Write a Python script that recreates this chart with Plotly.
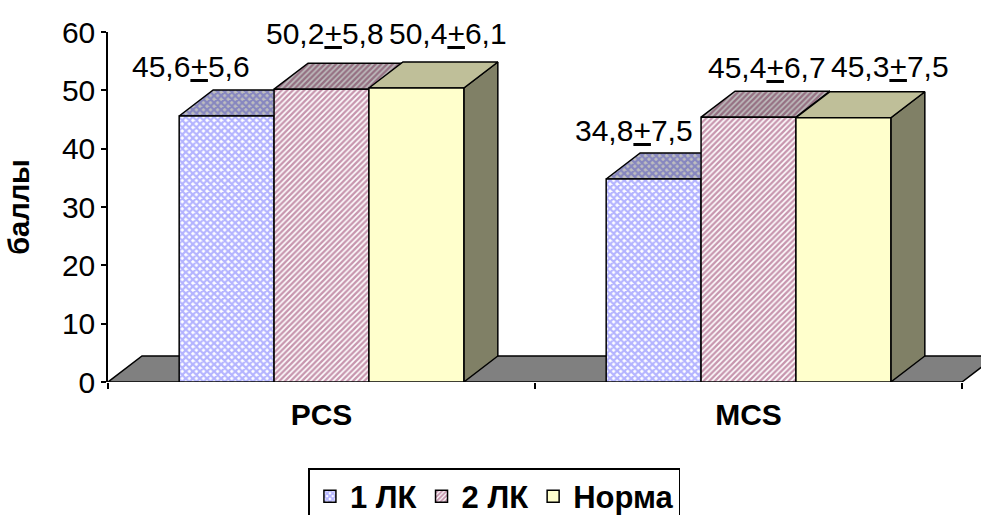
import plotly.graph_objects as go

# ---- data -------------------------------------------------------------
categories = ["PCS", "MCS"]
series_names = ["1 ЛК", "2 ЛК", "Норма"]

mean_1lk = [45.6, 34.8]
sd_1lk = [5.6, 7.5]
mean_2lk = [50.2, 45.4]
sd_2lk = [5.8, 6.7]
mean_norm = [50.4, 45.3]
sd_norm = [6.1, 7.5]

y_ticks = [0, 10, 20, 30, 40, 50, 60]

means = [mean_1lk, mean_2lk, mean_norm]
sds = [sd_1lk, sd_2lk, sd_norm]

# ---- styling ----------------------------------------------------------
FONT = "Liberation Sans"
W, H = 981, 515
M_L, M_R, M_T, M_B = 108, 0, 32, 133
FRONT_RIGHT_PX = 962          # right end of the floor's front edge
DEPTH_PX = (34, 26)           # oblique projection offset of the back plane

front_styles = [
    dict(shape="x", fgcolor="#6a6aff", bgcolor="#ffffff", size=5, solidity=0.7),
    dict(shape="/", fgcolor="#8f2d5e", bgcolor="#ffffff", size=4, solidity=0.6),
    None,
]
front_fill = ["#ffffff", "#ffffff", "#ffffcc"]
top_styles = [
    dict(shape="x", fgcolor="#5050bf", bgcolor="#bfbfbf", size=5, solidity=0.7),
    dict(shape="/", fgcolor="#6b2246", bgcolor="#bfbfbf", size=4, solidity=0.6),
    None,
]
top_fill = ["#bfbfbf", "#bfbfbf", "#bfbf99"]
side_fill = ["#7f7f7f", "#7f7f7f", "#808066"]

# label placement relative to the top-front of each bar (pixels)
label_dx_px = [[-36, 3, 32], [-20, 18, 47]]
label_dy_px = [[50, 56, 55], [49, 50, 51]]

# ---- geometry helpers ---------------------------------------------------
plot_w = W - M_L - M_R
plot_h = H - M_T - M_B
px_per_x = (FRONT_RIGHT_PX - M_L) / 2.0
x_range = [-0.5, -0.5 + plot_w / px_per_x]
y_range = [y_ticks[0], y_ticks[-1]]
px_per_y = plot_h / (y_range[1] - y_range[0])
ddx = DEPTH_PX[0] / px_per_x
ddy = DEPTH_PX[1] / px_per_y

bar_gap = 1 / 3
n_series = len(series_names)
bw = (1 - bar_gap) / n_series
cat_x = list(range(len(categories)))

fig = go.Figure()

# floor
fx = [-0.5, 1.5, 1.5 + ddx, -0.5 + ddx, -0.5]
fy = [0, 0, ddy, ddy, 0]
fig.add_trace(go.Scatter(
    x=fx, y=fy, mode="lines", fill="toself", fillcolor="#808080",
    line=dict(color="black", width=1.5), showlegend=False, hoverinfo="skip"))

# top and side faces of each bar (drawn beneath the front faces)
for i, cx in enumerate(cat_x):
    for k in range(n_series):
        v = means[k][i]
        left = cx + (k - (n_series - 1) / 2) * bw - bw / 2
        right = left + bw
        # side face
        fig.add_trace(go.Scatter(
            x=[right, right, right + ddx, right + ddx, right],
            y=[0, v, v + ddy, ddy, 0],
            mode="lines", fill="toself", fillcolor=side_fill[k],
            line=dict(color="black", width=1.5),
            showlegend=False, hoverinfo="skip"))
        # top face
        kw = {}
        if top_styles[k]:
            kw["fillpattern"] = top_styles[k]
        fig.add_trace(go.Scatter(
            x=[left, right, right + ddx, left + ddx, left],
            y=[v, v, v + ddy, v + ddy, v],
            mode="lines", fill="toself", fillcolor=top_fill[k],
            line=dict(color="black", width=1.5),
            showlegend=False, hoverinfo="skip", **kw))

# front faces as grouped bars on an overlaying axis pair
for k, name in enumerate(series_names):
    marker = dict(color=front_fill[k], line=dict(color="black", width=1.5))
    if front_styles[k]:
        marker["pattern"] = front_styles[k]
    fig.add_trace(go.Bar(
        x=cat_x, y=means[k], name=name, marker=marker,
        xaxis="x2", yaxis="y2", hoverinfo="skip"))

# value labels
for i, cx in enumerate(cat_x):
    for k in range(n_series):
        v = means[k][i]
        center = cx + (k - (n_series - 1) / 2) * bw
        txt = (f"{v:.1f}".replace(".", ",") + "<u>+</u>"
               + f"{sds[k][i]:.1f}".replace(".", ","))
        fig.add_annotation(
            x=center + label_dx_px[i][k] / px_per_x,
            y=v + label_dy_px[i][k] / px_per_y,
            xref="x", yref="y", text=txt, showarrow=False,
            xanchor="center", yanchor="middle",
            font=dict(family=FONT, size=30, color="black"))

fig.update_layout(
    width=W, height=H,
    margin=dict(l=M_L, r=M_R, t=M_T, b=M_B, pad=0),
    paper_bgcolor="white", plot_bgcolor="white",
    barmode="group", bargap=bar_gap, bargroupgap=0,
    font=dict(family=FONT, color="black"),
    xaxis=dict(
        range=x_range, tickvals=cat_x, ticktext=categories,
        ticks="", showline=False, showgrid=False, zeroline=False,
        ticklabelstandoff=12,
        tickfont=dict(family=FONT, size=30, weight="bold", color="black"),
        minor=dict(tickvals=[-0.5, 0.5, 1.5], ticks="outside", ticklen=6,
                   tickwidth=1.5, tickcolor="black", showgrid=False),
    ),
    yaxis=dict(
        range=y_range, tickvals=y_ticks, ticks="outside", ticklen=5,
        tickwidth=1.5, tickcolor="black", showline=True, linecolor="black",
        linewidth=1.5, showgrid=False, zeroline=False,
        tickfont=dict(family=FONT, size=30, color="black"),
        title=dict(text="баллы", standoff=24,
                   font=dict(family=FONT, size=29, weight="bold", color="black")),
    ),
    xaxis2=dict(range=x_range, overlaying="x", visible=False),
    yaxis2=dict(range=y_range, overlaying="y", visible=False),
    legend=dict(
        orientation="h", xref="container", yref="container",
        x=0.504, xanchor="center", y=1 - 468 / H, yanchor="top",
        bordercolor="black", borderwidth=1.5, bgcolor="white",
        font=dict(family=FONT, size=31, weight="bold", color="black"),
        traceorder="normal",
    ),
)

fig.write_html("out.html")
